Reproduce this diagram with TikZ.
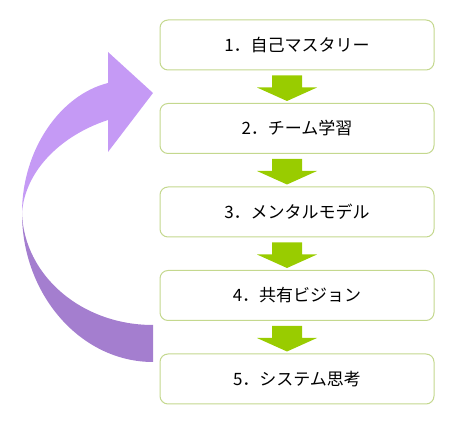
\documentclass[tikz,border=0pt]{standalone}
\usepackage{fontspec}
\setmainfont{Noto Sans CJK JP}
\usetikzlibrary{positioning,calc}

\definecolor{boxline}{HTML}{C4D88E}
\definecolor{stepgreen}{HTML}{99CC00}
\definecolor{looplight}{HTML}{C59AF5}
\definecolor{loopdark}{HTML}{A47ECF}

\begin{document}
\begin{tikzpicture}[x=1pt, y=1pt, node distance=32.5pt,
    block/.style={rectangle, draw=boxline, line width=1pt, fill=white, minimum width=274pt, minimum height=50pt, rounded corners=8pt, font=\fontsize{17}{20}\selectfont},
    steparrow/.style={fill=stepgreen}]

    \useasboundingbox (0,0) rectangle (464,433);

    % feedback loop
    \fill[loopdark] (22,220) .. controls (22,138) and (81,71) .. (153,71) -- (153,108) .. controls (81,108) and (24,158) .. (22,220) -- cycle;
    \fill[looplight] (22,220) .. controls (22,283) and (60,338) .. (108,350) -- (108,381) -- (153,340) -- (108,281) -- (108,313) .. controls (62,298) and (25,263) .. (22,220) -- cycle;

    \node [block] at (297,388) (mastery) {1．自己マスタリー};
    \node [block, below=of mastery] (learning) {2．チーム学習};
    \node [block, below=of learning] (models) {3．メンタルモデル};
    \node [block, below=of models] (vision) {4．共有ビジョン};
    \node [block, below=of vision] (systems) {5．システム思考};

    \foreach \a/\b in {mastery/learning, learning/models, models/vision, vision/systems}
        \fill [steparrow] ($(\a.south)+(-25,-5)$) -- ($(\a.south)+(5,-5)$) -- ($(\a.south)+(5,-17)$) -- ($(\a.south)+(20,-17)$) -- ($(\b.north)+(-10,2)$) -- ($(\a.south)+(-40,-17)$) -- ($(\a.south)+(-25,-17)$) -- cycle;
\end{tikzpicture}
\end{document}
